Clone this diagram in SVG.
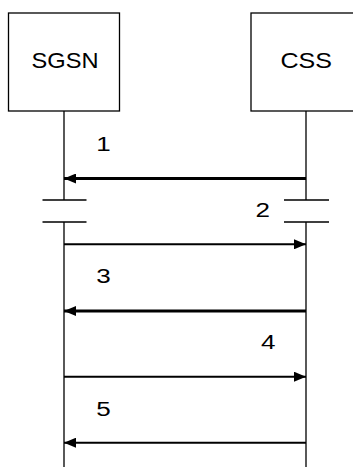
<svg xmlns="http://www.w3.org/2000/svg" width="353" height="467" viewBox="0 0 353 467">
<defs>
<style>
.box{fill:#fff;stroke:#000;stroke-width:1.3}
.life{stroke:#000;stroke-width:1.3;fill:none}
.brk{stroke:#000;stroke-width:1.3}
.msg{stroke:#000;fill:none}
.thick{stroke-width:3}
.thin{stroke-width:2}
.name{font-family:"Liberation Sans",Arial,sans-serif;font-size:21.5px;fill:#000}
.num{font-family:"Liberation Sans",Arial,sans-serif;font-size:19.5px;fill:#000}
</style>
<marker id="ah" viewBox="0 0 12 10" refX="12" refY="5" markerWidth="12" markerHeight="10" markerUnits="userSpaceOnUse" orient="auto">
<path d="M0,0 L12,5 L0,10 z" fill="#000"/>
</marker>
</defs>
<g id="SGSN">
<rect class="box" x="8.5" y="13" width="111" height="98"/>
<text class="name" x="31.5" y="67.7" textLength="67" lengthAdjust="spacingAndGlyphs">SGSN</text>
<path class="life" d="M64,111 V200 M64,222 V467"/>
<path class="brk" d="M42.5,200 H86.5 M42.5,222 H86.5"/>
</g>
<g id="CSS">
<rect class="box" x="251" y="13" width="150" height="98"/>
<text class="name" x="280.5" y="67.5" textLength="51.5" lengthAdjust="spacingAndGlyphs">CSS</text>
<path class="life" d="M306,111 V200 M306,222 V467"/>
<path class="brk" d="M284,200 H329 M284,222 H329"/>
</g>
<g id="connectors">
<line class="msg thick" x1="306" y1="178.5" x2="64" y2="178.5" marker-end="url(#ah)"/>
<line class="msg thin" x1="64" y1="244.3" x2="306" y2="244.3" marker-end="url(#ah)"/>
<line class="msg thick" x1="306" y1="311" x2="64" y2="311" marker-end="url(#ah)"/>
<line class="msg thin" x1="64" y1="376.7" x2="306" y2="376.7" marker-end="url(#ah)"/>
<line class="msg thin" x1="306" y1="442.7" x2="64" y2="442.7" marker-end="url(#ah)"/>
<text class="num" x="96.3" y="150.7" textLength="14.5" lengthAdjust="spacingAndGlyphs">1</text>
<text class="num" x="255.5" y="217.3" textLength="14.5" lengthAdjust="spacingAndGlyphs">2</text>
<text class="num" x="96.2" y="283.3" textLength="14.5" lengthAdjust="spacingAndGlyphs">3</text>
<text class="num" x="261" y="349.3" textLength="14.5" lengthAdjust="spacingAndGlyphs">4</text>
<text class="num" x="96.2" y="416" textLength="14.5" lengthAdjust="spacingAndGlyphs">5</text>
</g>
</svg>
